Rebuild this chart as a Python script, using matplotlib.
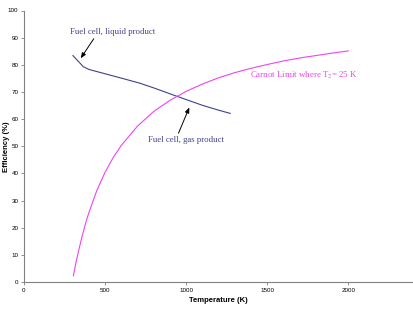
import matplotlib
matplotlib.use("Agg")
import matplotlib.pyplot as plt

# Fuel cell efficiency (liquid product up to ~373 K, gas product above)
fc_temp = [302, 330, 366, 400, 500, 600, 716, 800, 920, 1000, 1100, 1200, 1272]
fc_eff = [83.4, 81.6, 79.3, 78.3, 76.7, 75.1, 73.2, 71.5, 68.9, 67.2, 65.1, 63.3, 62.1]

# Carnot limit
carnot_temp = [305, 320, 340, 360, 380, 400, 450, 500, 550, 600, 700, 800, 900,
               1000, 1100, 1200, 1300, 1400, 1500, 1600, 1700, 1800, 1900, 2000]
carnot_eff = [2.3, 7.0, 12.3, 17.2, 21.6, 25.5, 33.8, 40.4, 45.8, 50.3, 57.4, 62.8, 66.9,
              70.2, 72.9, 75.2, 77.1, 78.7, 80.1, 81.4, 82.5, 83.4, 84.3, 85.1]

x_ticks = [0, 500, 1000, 1500, 2000]
y_ticks = list(range(0, 101, 10))

navy = "#40408f"
magenta = "#ee44ee"
serif = "Liberation Serif"
plt.rcParams["font.family"] = "Liberation Sans"
plt.rcParams["mathtext.fontset"] = "stix"

fig = plt.figure(figsize=(4.13, 3.18), dpi=100)
ax = fig.add_axes([24 / 413, 1 - 282 / 318, 1 - 24 / 413, (282 - 10.5) / 318])

ax.plot(fc_temp, fc_eff, color=navy, lw=0.8)
ax.plot(carnot_temp, carnot_eff, color=magenta, lw=0.8)

ax.set_xlim(0, 2400)
ax.set_ylim(0, 100)
ax.set_xticks(x_ticks)
ax.set_yticks(y_ticks)
ax.tick_params(labelsize=4.5, length=2, width=0.6, color="#808080", pad=2)
for side in ["top", "right"]:
    ax.spines[side].set_visible(False)
for side in ["left", "bottom"]:
    ax.spines[side].set_color("#808080")
    ax.spines[side].set_linewidth(0.8)

ax.set_xlabel("Temperature (K)", fontsize=5.5, fontweight="bold", labelpad=3)
ax.set_ylabel("Efficiency (%)", fontsize=5.5, fontweight="bold")
ax.yaxis.set_label_coords(-0.037, 0.5)

arrow = dict(arrowstyle="-|>,head_length=0.5,head_width=0.2",
             color="black", lw=0.7, shrinkA=0, shrinkB=0)
ax.annotate("Fuel cell, liquid product", xy=(350, 82.4), xytext=(284, 92.1),
            fontsize=6.3, family=serif, color=navy, va="center",
            arrowprops=dict(arrow, relpos=(0.3, 0)))
ax.annotate("Fuel cell, gas product", xy=(1020, 64.3), xytext=(768, 52.3),
            fontsize=6.3, family=serif, color=navy, va="center",
            arrowprops=dict(arrow, relpos=(0.38, 1)))
ax.text(1395, 76.2, "Carnot Limit where T$_2$= 25 K", fontsize=6.4, family=serif,
        color=magenta, va="center")

fig.savefig("out.png", dpi=100)
